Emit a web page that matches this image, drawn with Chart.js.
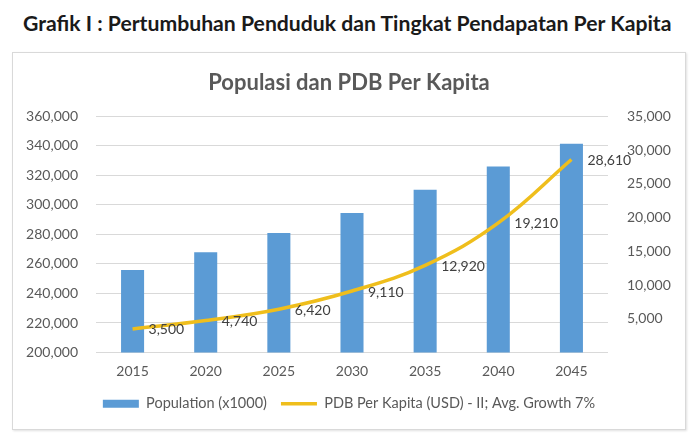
<!DOCTYPE html>
<html>
<head>
<meta charset="utf-8">
<script src="https://cdn.jsdelivr.net/npm/chart.js@4"></script>
<style>
  body { margin: 0; background: #fff; width: 700px; height: 446px; position: relative; overflow: hidden; }
  #pageTitle { position: absolute; left: 23px; top: 11px; font: bold 21.2px Lato, sans-serif; line-height: 24px; color: #1a1a1a; white-space: nowrap; }
  #box { position: absolute; left: 12px; top: 52px; width: 672px; height: 376px; border: 1px solid #d9d9d9; box-shadow: 1px 1px 2px rgba(0,0,0,0.12); background: #fff; }
</style>
</head>
<body>
<div id="pageTitle">Grafik I : Pertumbuhan Penduduk dan Tingkat Pendapatan Per Kapita</div>
<div id="box"><canvas id="chart" width="672" height="376"></canvas></div>
<script>
const years = ['2015', '2020', '2025', '2030', '2035', '2040', '2045'];
const population = [255900, 267900, 280900, 294600, 310300, 326000, 341500];
const gdpPerCapita = [3500, 4740, 6420, 9110, 12920, 19210, 28610];

const popLabel = 'Population (x1000)';
const gdpLabel = 'PDB Per Kapita (USD) - II; Avg. Growth 7%';

const gray = '#595959';
const blue = '#5B9BD5';
const gold = '#EFBE1C';
const font = 'Lato, sans-serif';

// value labels to the right of each line point
const pointLabels = {
  id: 'pointLabels',
  afterDatasetsDraw(chart) {
    const ctx = chart.ctx;
    const meta = chart.getDatasetMeta(1);
    ctx.save();
    ctx.font = '14px ' + font;
    ctx.fillStyle = '#404040';
    ctx.textAlign = 'left';
    ctx.textBaseline = 'middle';
    meta.data.forEach((pt, i) => {
      ctx.fillText(gdpPerCapita[i].toLocaleString('en-US'), pt.x + 16, pt.y + 1);
    });
    ctx.restore();
  }
};

new Chart(document.getElementById('chart'), {
  data: {
    labels: years,
    datasets: [
      {
        type: 'bar',
        label: popLabel,
        data: population,
        backgroundColor: blue,
        yAxisID: 'y',
        categoryPercentage: 1,
        barPercentage: 0.315,
        order: 1
      },
      {
        type: 'line',
        label: gdpLabel,
        data: gdpPerCapita,
        borderColor: gold,
        backgroundColor: gold,
        borderWidth: 3.5,
        pointRadius: 0,
        tension: 0.4,
        yAxisID: 'y1',
        order: 0
      }
    ]
  },
  options: {
    responsive: false,
    animation: false,
    layout: { padding: { left: 0, right: 0, top: 0, bottom: 8 } },
    plugins: {
      tooltip: { enabled: false },
      title: {
        display: true,
        text: 'Populasi dan PDB Per Kapita',
        color: gray,
        font: { family: font, size: 22, weight: 'bold' },
        padding: { top: 17, bottom: 20 }
      },
      legend: {
        position: 'bottom',
        labels: {
          color: gray,
          font: { family: font, size: 14.5 },
          usePointStyle: true,
          pointStyleWidth: 36,
          boxWidth: 36,
          boxHeight: 8,
          padding: 14,
          generateLabels(chart) {
            return chart.data.datasets.map((ds, i) => ({
              text: ds.label,
              fillStyle: ds.backgroundColor,
              strokeStyle: ds.type === 'line' ? ds.borderColor : ds.backgroundColor,
              lineWidth: ds.type === 'line' ? 3.5 : 0,
              pointStyle: ds.type === 'line' ? 'line' : 'rect',
              fontColor: gray,
              hidden: false,
              datasetIndex: i
            }));
          }
        }
      }
    },
    scales: {
      x: {
        grid: { display: false },
        border: { display: false },
        ticks: { color: gray, font: { family: font, size: 14 }, padding: 3 },
        afterFit(scale) { scale.height = 30; }
      },
      y: {
        position: 'left',
        min: 200000,
        max: 360000,
        ticks: {
          stepSize: 20000,
          color: gray,
          font: { family: font, size: 14 },
          padding: 18,
          callback: v => v.toLocaleString('en-US')
        },
        grid: { color: '#d9d9d9', drawTicks: false },
        border: { display: false },
        afterFit(scale) { scale.width = 83; }
      },
      y1: {
        position: 'right',
        min: 0,
        max: 35000,
        ticks: {
          stepSize: 5000,
          color: gray,
          font: { family: font, size: 14 },
          padding: 19,
          callback: v => v === 0 ? '' : v.toLocaleString('en-US')
        },
        grid: { display: false, drawTicks: false },
        border: { display: false },
        afterFit(scale) { scale.width = 77; }
      }
    }
  },
  plugins: [pointLabels]
});
</script>
</body>
</html>
